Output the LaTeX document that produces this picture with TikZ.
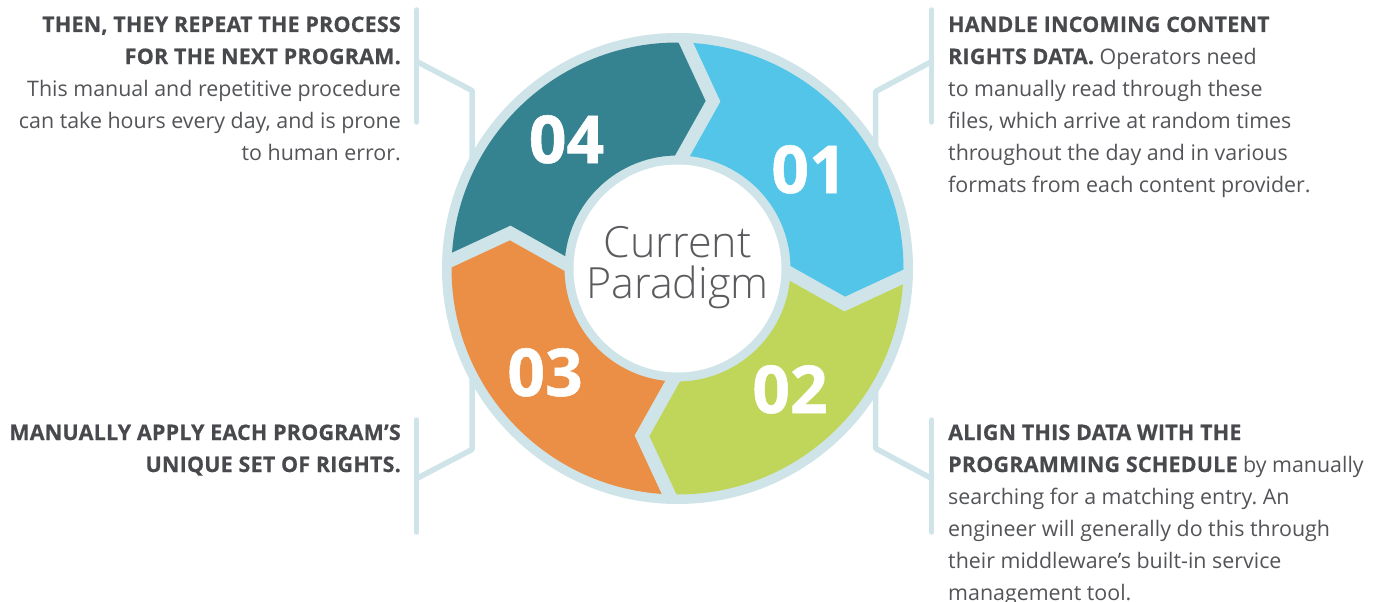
\documentclass[tikz,border=0pt]{standalone}
\usepackage{fontspec}
\setmainfont{Open Sans}
\IfFontExistsTF{Open Sans Light}{\newfontfamily\lightfont{Open Sans Light}}{\newfontfamily\lightfont{Open Sans}}
\IfFontExistsTF{Open Sans ExtraBold}{\newfontfamily\heavyfont{Open Sans ExtraBold}}{\newcommand\heavyfont{\bfseries\addfontfeatures{FakeBold=0.8}}}
\newcommand\titlefont{\bfseries\addfontfeatures{FakeBold=0.7,LetterSpace=1.2}}
\definecolor{ringc}{HTML}{CFE4E8}
\definecolor{c01}{HTML}{52C5E8}
\definecolor{c02}{HTML}{C0D65A}
\definecolor{c03}{HTML}{EA8F45}
\definecolor{c04}{HTML}{358390}
\definecolor{txt}{HTML}{535458}
\definecolor{ttl}{HTML}{48494D}
\definecolor{ctr}{HTML}{5A5B5E}
\newcommand\ttlx[1]{{\titlefont\color{ttl}#1}}
\begin{document}
\frenchspacing
\begin{tikzpicture}[x=1pt,y=-1pt,
  txtline/.style={inner sep=0pt, font=\frenchspacing\fontsize{21.4}{32}\selectfont, text=txt},
  ll/.style={txtline, anchor=base east},
  rl/.style={txtline, anchor=base west},
  link/.style={draw=ringc, line width=5.5pt, line cap=round, line join=round},
  num/.style={text=white, font=\heavyfont\fontsize{66}{66}\selectfont, inner sep=0pt, anchor=base},
  ctrtxt/.style={text=ctr, font=\lightfont\fontsize{43}{43}\selectfont, inner sep=0pt, anchor=base}]
\useasboundingbox (0,0) rectangle (1381,602);

% connectors
\coordinate (tla) at (416.7,10);
\coordinate (tlb) at (416.7,122);
\coordinate (tlc) at (416.7,61.5);
\coordinate (tld) at (472,90.5);
\coordinate (tle) at (472,165);
\draw[link] (tla) -- (tlb);
\draw[link] (tlc) -- (tld) -- (tle);
\coordinate (tra) at (931.7,10);
\coordinate (trb) at (931.7,122);
\coordinate (trc) at (931.7,61.5);
\coordinate (trd) at (875.7,91.5);
\coordinate (tre) at (875.7,155);
\draw[link] (tra) -- (trb);
\draw[link] (trc) -- (trd) -- (tre);
\coordinate (bla) at (416.7,420);
\coordinate (blb) at (416.7,532);
\coordinate (blc) at (416.7,478.5);
\coordinate (bld) at (472,449.5);
\coordinate (ble) at (472,372);
\draw[link] (bla) -- (blb);
\draw[link] (blc) -- (bld) -- (ble);
\coordinate (bra) at (931.7,420);
\coordinate (brb) at (931.7,532);
\coordinate (brc) at (931.7,478.5);
\coordinate (brd) at (875.7,448.5);
\coordinate (bre) at (875.7,382);
\draw[link] (bra) -- (brb);
\draw[link] (brc) -- (brd) -- (bre);

% ring
\begin{scope}[shift={(677.5,268.5)}, y=1pt]
\fill[ringc] (0,0) circle[radius=235.5];
\foreach \s/\c in {88.5/c01, -1.5/c02, -91.5/c03, -181.5/c04} {
  \pgfmathsetmacro\e{\s-90}
  \fill[\c] (\s:226) arc[start angle=\s, end angle=\e, radius=226] -- (\e-10.5:171) -- (\e:113)
     arc[start angle=\e, end angle=\s, radius=113] -- (\s-10.5:171) -- cycle;
}
\foreach \s in {88.5,-1.5,-91.5,-181.5}
  \draw[ringc, line width=13pt, line join=miter] (\s:231) -- (\s-10.5:171) -- (\s:109);
\fill[white] (0,0) circle[radius=104];
\end{scope}

\node[ctrtxt] (cur) at (677.5,257) {Current};
\node[ctrtxt] (par) at (677.5,298) {Paradigm};
\node[num] (n04) at (566.5,163) {04};
\node[num] (n01) at (809,193) {01};
\node[num] (n02) at (790,413) {02};
\node[num] (n03) at (545,396) {03};

% left top
\node[ll] (lt1) at (401,32) {\ttlx{THEN, THEY REPEAT THE PROCESS}};
\node[ll] (lt2) at (401,64) {\ttlx{FOR THE NEXT PROGRAM.}};
\node[ll] (lt3) at (401,96) {This manual and repetitive procedure};
\node[ll] (lt4) at (401,128) {can take hours every day, and is prone};
\node[ll] (lt5) at (401,160) {to human error.};
% right top
\node[rl] (rt1) at (948,32) {\ttlx{HANDLE INCOMING CONTENT}};
\node[rl] (rt2) at (948,64) {\ttlx{RIGHTS DATA.} Operators need};
\node[rl] (rt3) at (948,96) {to manually read through these};
\node[rl] (rt4) at (948,128) {files, which arrive at random times};
\node[rl] (rt5) at (948,160) {throughout the day and in various};
\node[rl] (rt6) at (948,192) {formats from each content provider.};
% left bottom
\node[ll] (lb1) at (401,440) {\ttlx{MANUALLY APPLY EACH PROGRAM’S}};
\node[ll] (lb2) at (401,472) {\ttlx{UNIQUE SET OF RIGHTS.}};
% right bottom
\node[rl] (rb1) at (948,440) {\ttlx{ALIGN THIS DATA WITH THE}};
\node[rl] (rb2) at (948,472) {\ttlx{PROGRAMMING SCHEDULE} by manually};
\node[rl] (rb3) at (948,504) {searching for a matching entry. An};
\node[rl] (rb4) at (948,536) {engineer will generally do this through};
\node[rl] (rb5) at (948,568) {their middleware’s built-in service};
\node[rl] (rb6) at (948,600) {management tool.};
\end{tikzpicture}
\end{document}
